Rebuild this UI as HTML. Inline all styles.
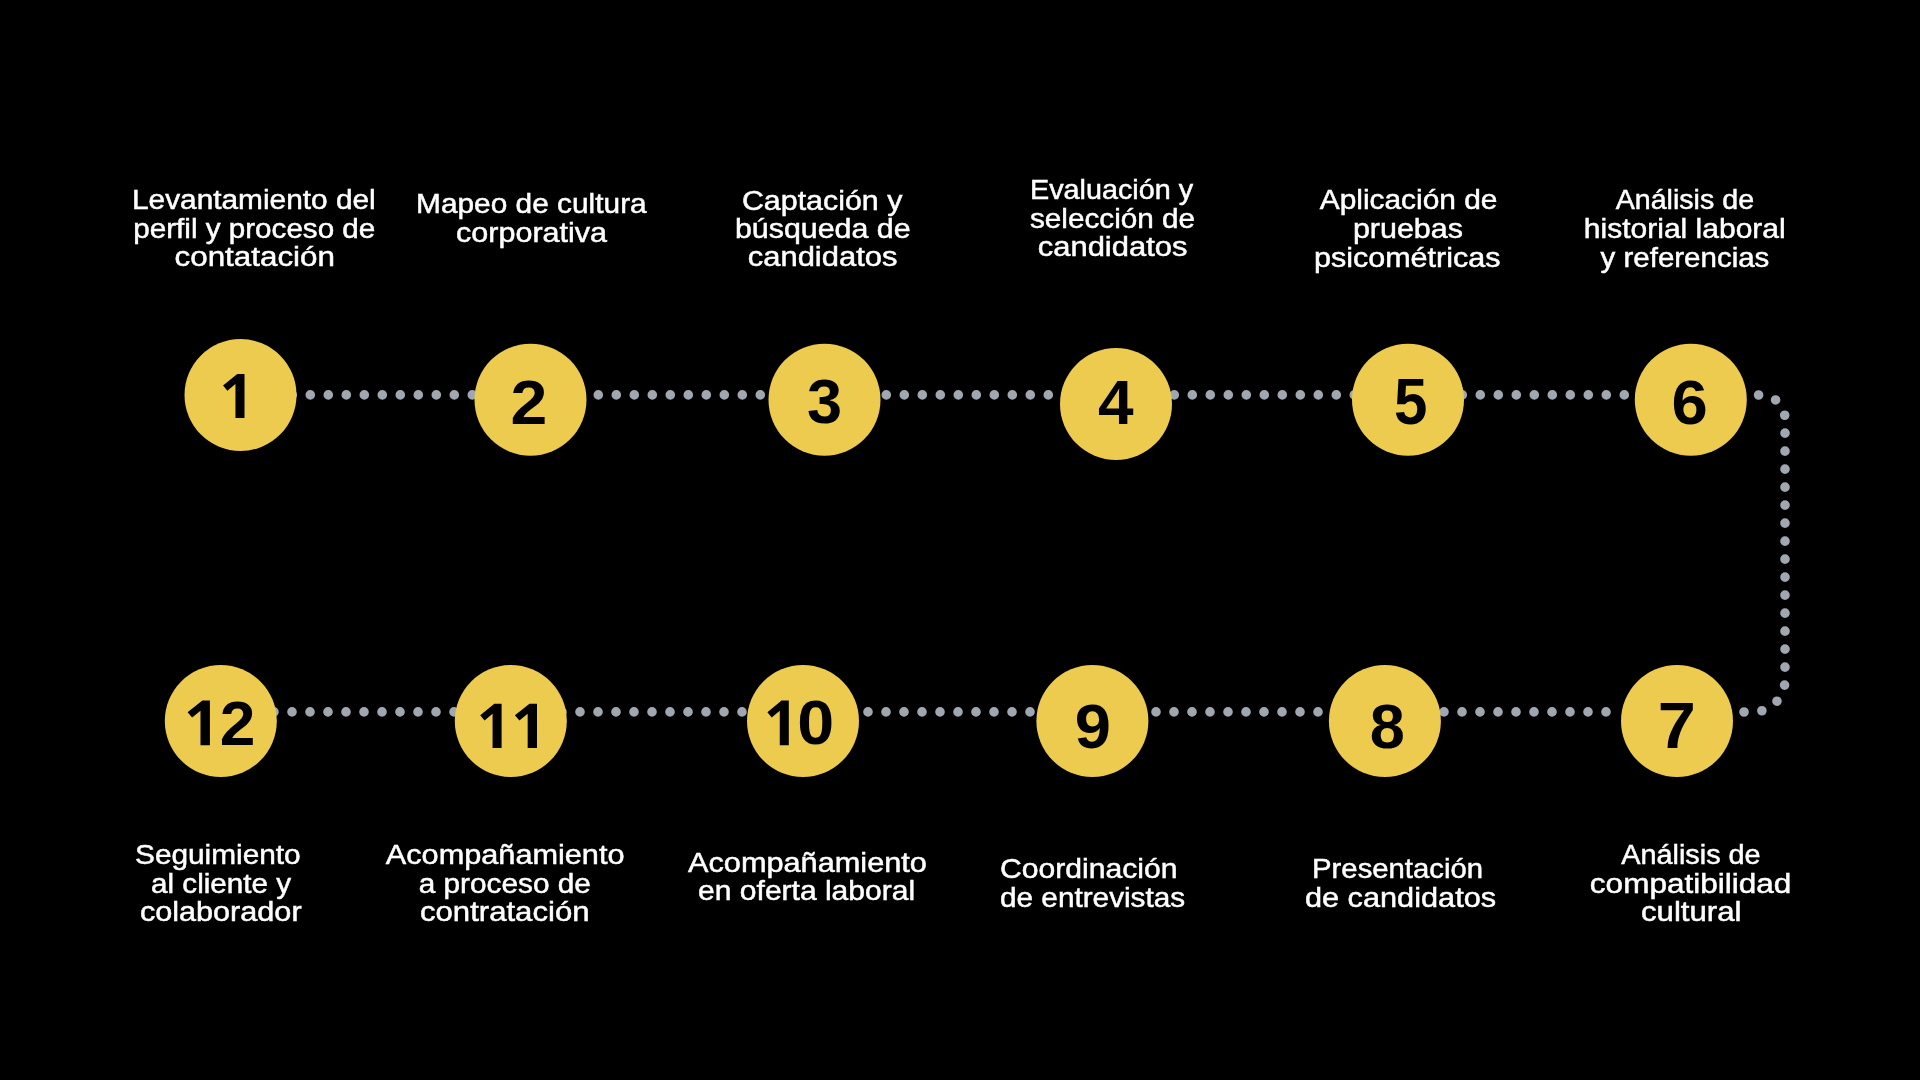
<!DOCTYPE html><html><head><meta charset="utf-8"><title>Proceso</title><style>html,body{margin:0;padding:0;background:#000;width:1920px;height:1080px;overflow:hidden}svg{display:block;will-change:transform}.t{font-family:"Liberation Sans",sans-serif;font-size:28px;fill:#fff;stroke:#fff;stroke-width:0.50px}.n{font-family:"Liberation Sans",sans-serif;font-weight:bold;font-size:62px;fill:#000}</style></head><body>
<svg width="1920" height="1080" viewBox="0 0 1920 1080">
<rect width="1920" height="1080" fill="#000"/>
<path d="M292.3 394.9H1714.3" fill="none" stroke="#a1a7b0" stroke-width="9.6" stroke-linecap="round" stroke-dasharray="0 18"/>
<path d="M274 711.9H1609" fill="none" stroke="#a1a7b0" stroke-width="9.6" stroke-linecap="round" stroke-dasharray="0 18"/>
<path d="M1758.6 395H1761A24 24 0 0 1 1785 419V680A32 32 0 0 1 1753 712H1741.5" fill="none" stroke="#a1a7b0" stroke-width="9.6" stroke-linecap="round" stroke-dasharray="0 18"/>
<circle cx="240.5" cy="395.0" r="56" fill="#eccb4e"/>
<circle cx="530.5" cy="399.7" r="56" fill="#eccb4e"/>
<circle cx="824.5" cy="399.7" r="56" fill="#eccb4e"/>
<circle cx="1116.0" cy="404.0" r="56" fill="#eccb4e"/>
<circle cx="1408.0" cy="399.7" r="56" fill="#eccb4e"/>
<circle cx="1690.8" cy="399.7" r="56" fill="#eccb4e"/>
<circle cx="1677.0" cy="721.0" r="56" fill="#eccb4e"/>
<circle cx="1384.9" cy="721.0" r="56" fill="#eccb4e"/>
<circle cx="1092.4" cy="721.0" r="56" fill="#eccb4e"/>
<circle cx="803.0" cy="721.0" r="56" fill="#eccb4e"/>
<circle cx="510.8" cy="721.0" r="56" fill="#eccb4e"/>
<circle cx="220.8" cy="721.0" r="56" fill="#eccb4e"/>
<path d="M237.25 374.10L244.50 374.10L244.50 417.90L235.45 417.90L235.45 384.00L227.40 390.70L223.05 385.40Z" fill="#000"/>
<text class="n" style="fill:#000" text-anchor="middle" transform="matrix(1.0667 0 0 1.0131 529.00 424.00)">2</text>
<text class="n" style="fill:#000" text-anchor="middle" transform="matrix(1.0173 0 0 1.0116 824.60 422.99)">3</text>
<text class="n" style="fill:#000" text-anchor="middle" transform="matrix(1.0316 0 0 1.0135 1115.78 424.00)">4</text>
<text class="n" style="fill:#000" text-anchor="middle" transform="matrix(0.9682 0 0 1.0358 1410.62 423.55)">5</text>
<text class="n" style="fill:#000" text-anchor="middle" transform="matrix(1.0504 0 0 1.0022 1689.60 423.58)">6</text>
<text class="n" style="fill:#000" text-anchor="middle" transform="matrix(1.1045 0 0 1.0367 1676.72 747.62)">7</text>
<text class="n" style="fill:#000" text-anchor="middle" transform="matrix(1.0173 0 0 1.0116 1387.20 747.99)">8</text>
<text class="n" style="fill:#000" text-anchor="middle" transform="matrix(1.0501 0 0 1.0116 1092.72 747.99)">9</text>
<path d="M781.57 700.60L788.80 700.60L788.80 745.30L779.77 745.30L779.77 710.70L771.74 717.54L767.40 712.13Z" fill="#000"/>
<text class="n" style="fill:#000" text-anchor="middle" transform="matrix(1.0704 0 0 1.0116 815.72 743.79)">0</text>
<path d="M494.37 703.80L501.60 703.80L501.60 747.90L492.57 747.90L492.57 713.77L484.54 720.51L480.20 715.18Z" fill="#000"/>
<path d="M529.53 703.80L537.00 703.80L537.00 747.90L527.67 747.90L527.67 713.77L519.39 720.51L514.90 715.18Z" fill="#000"/>
<path d="M202.36 700.60L209.90 700.60L209.90 745.30L200.49 745.30L200.49 710.70L192.13 717.54L187.60 712.13Z" fill="#000"/>
<text class="n" style="fill:#000" text-anchor="middle" transform="matrix(1.0338 0 0 1.0131 237.49 744.84)">2</text>
<text class="t" transform="matrix(1.0658 0 0 1 131.96 209.10)">Levantamiento del</text>
<text class="t" transform="matrix(1.0582 0 0 1 133.31 237.80)">perfil y proceso de</text>
<text class="t" transform="matrix(1.1207 0 0 1 174.52 266.25)">contatación</text>
<text class="t" transform="matrix(1.0661 0 0 1 416.05 212.80)">Mapeo de cultura</text>
<text class="t" transform="matrix(1.0913 0 0 1 456.00 242.00)">corporativa</text>
<text class="t" transform="matrix(1.0857 0 0 1 741.91 209.50)">Captación y</text>
<text class="t" transform="matrix(1.0851 0 0 1 734.91 238.20)">búsqueda de</text>
<text class="t" transform="matrix(1.1060 0 0 1 747.71 266.30)">candidatos</text>
<text class="t" transform="matrix(1.0280 0 0 1 1030.04 199.10)">Evaluación y</text>
<text class="t" transform="matrix(1.0611 0 0 1 1029.94 228.20)">selección de</text>
<text class="t" transform="matrix(1.1060 0 0 1 1037.71 256.30)">candidatos</text>
<text class="t" transform="matrix(1.0675 0 0 1 1319.72 209.10)">Aplicación de</text>
<text class="t" transform="matrix(1.0882 0 0 1 1352.90 238.00)">pruebas</text>
<text class="t" transform="matrix(1.0907 0 0 1 1313.90 266.70)">psicométricas</text>
<text class="t" transform="matrix(1.0223 0 0 1 1615.70 208.90)">Análisis de</text>
<text class="t" transform="matrix(1.0725 0 0 1 1583.85 237.90)">historial laboral</text>
<text class="t" transform="matrix(1.0538 0 0 1 1600.52 266.60)">y referencias</text>
<text class="t" transform="matrix(1.0297 0 0 1 1621.25 863.75)">Análisis de</text>
<text class="t" transform="matrix(1.1255 0 0 1 1589.87 893.10)">compatibilidad</text>
<text class="t" transform="matrix(1.1139 0 0 1 1640.97 920.60)">cultural</text>
<text class="t" transform="matrix(1.0463 0 0 1 1312.09 878.00)">Presentación</text>
<text class="t" transform="matrix(1.0971 0 0 1 1304.90 907.40)">de candidatos</text>
<text class="t" transform="matrix(1.0766 0 0 1 1000.01 878.00)">Coordinación</text>
<text class="t" transform="matrix(1.0625 0 0 1 1000.03 907.00)">de entrevistas</text>
<text class="t" transform="matrix(1.0968 0 0 1 688.00 871.80)">Acompañamiento</text>
<text class="t" transform="matrix(1.0730 0 0 1 698.11 900.40)">en oferta laboral</text>
<text class="t" transform="matrix(1.0959 0 0 1 385.82 863.75)">Acompañamiento</text>
<text class="t" transform="matrix(1.0638 0 0 1 418.74 893.30)">a proceso de</text>
<text class="t" transform="matrix(1.1120 0 0 1 419.97 921.10)">contratación</text>
<text class="t" transform="matrix(1.0650 0 0 1 135.02 864.10)">Seguimiento</text>
<text class="t" transform="matrix(1.0592 0 0 1 151.03 892.90)">al cliente y</text>
<text class="t" transform="matrix(1.0939 0 0 1 139.91 920.80)">colaborador</text>
</svg></body></html>
